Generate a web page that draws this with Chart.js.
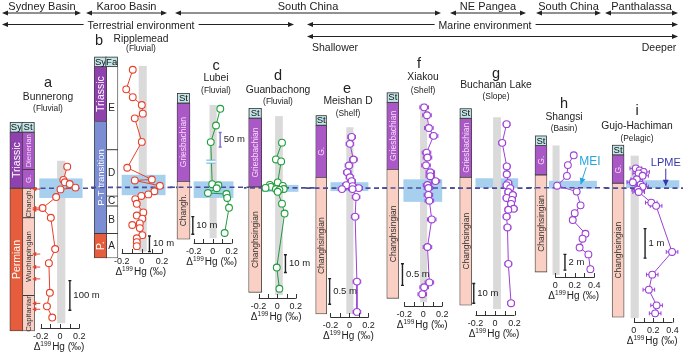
<!DOCTYPE html>
<html>
<head>
<meta charset="utf-8">
<script src="https://cdn.jsdelivr.net/npm/chart.js@4.4.1/dist/chart.umd.min.js"></script>
<style>
html, body { margin: 0; padding: 0; background: #fff; overflow: hidden; }
#fig { position: relative; width: 683px; height: 354px; overflow: hidden;
       font-family: 'Liberation Sans', Arial, Helvetica, sans-serif; color: #222; }
#fig canvas { position: absolute; top: 0; }
#hdr { position: absolute; left: 0; top: 0; }
.t { position: absolute; transform: translate(-50%, -50%); white-space: nowrap; line-height: 1; z-index: 3; }
.bg { background: #fff; padding: 0 4px; }
</style>
</head>
<body>
<div id="fig"><svg id="hdr" width="683" height="60"></svg></div>
<script>
// ---- a: Bunnerong (heights in m above the boundary) ----
const aHg = [0.075, 0.035, 0.05, 0.10, 0.16, 0.005, -0.04, -0.18, -0.095, -0.05, -0.115, -0.105, -0.135, -0.08];
const aHt = [73, 28, 20, 14, 2, -4, -30, -67, -100, -206, -254, -354, -400, -438];
const aArrows = [-3, -67, -73, -223, -267, -307, -390, -410];
const aSyUnits = ['Triassic', 'Permian'];
const aSyBounds = [190, 0, -483];
const aStUnits = ['Dienerian', 'G.', 'Changh.', 'Wuchiapingian', 'Capitanian'];
const aStBounds = [190, 63, 0, -100, -363, -483];
const aGrey = [-0.03, 0.055, 93, -457];
const aBlue = [-0.214, 0.233, 33, -33];
const aScale = [0.102, -313, -413];

// ---- b: Ripplemead ----
const bHg = [-0.09, -0.155, -0.09, 0.0, 0.01, -0.07, 0.0, -0.145, 0.1, -0.07, 0.18, 0.125, 0.065, -0.005,
    -0.065, -0.05, 0.015, -0.05, 0.005, -0.02, -0.095, -0.02, 0.005, -0.05, -0.05, -0.05];
const bHt = [75, 62.5, 57.5, 52.5, 47, 44, 29, 12.5, 5, 4.4, 1, -2.5, -4.5, -5.5,
    -7.5, -10.5, -16, -18, -20, -23, -24, -26, -30.5, -32.5, -35, -37.5];
const bSyUnits = ['Triassic', 'P-T transition', 'P.'];
const bSyBounds = [77, 42, -29.4, -45];
const bFaUnits = ['E', 'D', 'C', 'B', 'A'];
const bFaBounds = [77, 24, -5.6, -11.9, -29.4, -45];
const bGrey = [-0.031, 0.049, 77.5, -41];
const bBlue = [-0.2, 0.236, 8, -5];
const bScale = [0.076, -31, -41];

// ---- c: Lubei ----
const cHg = [0.08, 0.035, -0.02, -0.005, 0.06, 0.042, -0.05, 0.145, 0.153, 0.172, 0.126];
const cHt = [44.5, 35, 25.6, 1.7, 1.1, -0.6, -3.3, -3.9, -6.1, -11.7, -26];
const cStUnits = ['Griesbachian', 'Changh.'];
const cStBounds = [47.8, 3.3, -29.5];
const cGrey = [-0.033, 0.042, 46.7, -28.9];
const cBlue = [-0.2, 0.219, 3.3, -6.1];
const cScale = [-0.209, -16.7, -26.7];
const cScale50 = [0.079, 31, 22.8];
const cBreak = [-0.02, 14.5];

// ---- d: Guanbachong ----
const dHg = [0.051, -0.014, 0.042, 0.005, -0.079, 0.06, -0.07, -0.126, 0.07, -0.014, 0.023, 0.005, 0.051, 0.079, -0.005, 0.023];
const dHt = [25.6, 16.1, 15, 3.1, 1.7, 1.1, 0.6, 0, -0.6, -0.6, -1.1, -2.2, -8.9, -14.5, -45, -57];
const dStUnits = ['Griesbachian', 'Changhsingian'];
const dStBounds = [39.5, 0.5, -59];
const dGrey = [-0.023, 0.06, 40.6, -60.6];
const dBlue = [-0.163, 0.228, 1.7, -2.2];
const dScale = [0.088, -37.8, -47.8];

// ---- e: Meishan D ----
const eHg = [0.023, 0.005, 0.042, -0.005, -0.023, 0.005, 0.023, -0.033, 0.033, 0.098, -0.079, 0.033, 0.07, 0.06, 0.079, 0.079];
const eHt = [1.0, 0.865, 0.558, 0.442, 0.308, 0.212, 0.135, 0.058, 0.038, 0.0, -0.019, -0.019, -0.173, -0.558, -1.827, -2.42];
const eStUnits = ['G.', 'Changhsingian'];
const eStBounds = [1.23, 0.21, -2.46];
const eGrey = [-0.033, 0.042, 1.19, -2.46];
const eBlue = [-0.2, 0.2, 0.115, -0.058];
const eScale = [-0.209, -1.77, -2.27];

// ---- f: Xiakou ----
const fHg = [0.01, 0.04, 0.06, 0.11, 0.035, 0.045, 0.03, 0.075, 0.075, 0.13, 0.045, 0.055, 0.055, 0.065, 0.09, 0.045, 0.065, 0.01, -0.01];
const fHt = [1.864, 1.682, 1.386, 1.205, 0.818, 0.705, 0.523, 0.364, 0.273, 0.159, 0.068, 0.0, -0.159, -0.295, -0.727, -1.364, -2.182, -2.295, -2.455];
const fStUnits = ['Griesbachian', 'Changhsingian'];
const fStBounds = [1.98, 0.43, -2.55];
const fGrey = [-0.033, 0.042, 1.95, -2.64];
const fBlue = [-0.209, 0.2, 0.2, -0.32];
const fScale = [-0.219, -1.75, -2.25];

// ---- g: Buchanan Lake ----
const gHg = [0.118, 0.073, 0.12, 0.12, 0.136, 0.118, 0.155, 0.136, 0.182, 0.118, 0.173, 0.164, 0.191, 0.136, 0.118, 0.127, 0.136, 0.164];
const gHt = [32.5, 23, 11, 7, 2.5, 1.5, 0, -2, -3.5, -5, -6, -8, -10.5, -11, -14.5, -20, -38.5, -58.5];
const gStUnits = ['Griesbachian', 'Changhsingian'];
const gStBounds = [35.5, 5.5, -59.5];
const gGrey = [-0.02, 0.06, 36, -61.5];
const gBlue = [-0.2, 0.236, 5, 0];
const gScale = [-0.218, -48.5, -58.5];

// ---- h: Shangsi ----
const hHg = [0.19, 0.13, 0.12, 0.02, 0.22, 0.26, 0.2, 0.18, 0.31, 0.28, 0.25, 0.34, 0.36];
const hHt = [4.125, 2.875, 1.5, 0.25, -0.5, -2.25, -3.25, -4.125, -5.875, -6.5, -7.625, -8.5, -10.375];
const hStUnits = ['G.', 'Changhsingian'];
const hStBounds = [5.375, 1.625, -10.75];
const hGrey = [-0.027, 0.045, 5.375, -11.1];
const hBlue = [-0.064, 0.427, 0.875, -0.125];
const hScale = [0.1, -8.5, -10.5];

// ---- i: Gujo-Hachiman ----
const iHg = [0.02, 0.06, 0.1, 0.05, 0.09, 0.03, -0.01, 0.07, 0.09, 0.04, 0.05, 0.18, 0.23, 0.395, 0.19, 0.155, 0.235, 0.22];
const iHt = [0.67, 0.6, 0.55, 0.5, 0.42, 0.3, 0.2, 0.12, 0.05, -0.05, -0.13, -0.49, -0.6, -2.16, -2.93, -3.44, -3.97, -4.24];
const iStUnits = ['G.', 'Changhsingian'];
const iStBounds = [1.13, 0.167, -4.37];
const iGrey = [-0.033, 0.051, 1.1, -4.4];
const iBlue = [-0.079, 0.47, 0.267, 0];
const iScale = [0.116, -1.37, -2.37];

const FONT = "'Liberation Sans', Arial, Helvetica, sans-serif";
const Z = 186;  // pixel row of the boundary (dashed line)
const RED = '#e8412c', GREEN = '#1f9d3b', PURPLE = '#9c40d6';
const GREY = '#dadada', BLUE = '#a6d0ee';

const purpleFill = ['#aa58c6', '#f6dcf8'];
const pinkFill = ['#fbd0c4', '#333333'];
const unitStyle = {
    'Triassic': ['#8f42ad', '#ffffff'],
    'Permian': ['#e55d3c', '#ffffff'],
    'P.': ['#e55d3c', '#ffffff'],
    'P-T transition': ['#7b8ed4', '#ffffff'],
    'Dienerian': purpleFill, 'Griesbachian': purpleFill, 'G.': purpleFill,
    'Changh.': pinkFill, 'Changhsingian': pinkFill, 'Wuchiapingian': pinkFill, 'Capitanian': pinkFill,
    'A': ['#ffffff', '#222222'], 'B': ['#ffffff', '#222222'], 'C': ['#ffffff', '#222222'],
    'D': ['#ffffff', '#222222'], 'E': ['#ffffff', '#222222']
};

const st = (units, bounds) => ({units, bounds, head: 'St', kind: 'st'});

const panels = [
    {id: 'a', left: 0, right: 88, axisY: 328, p0: 61, k: 107.5, mpp: 100 / 30, ticks: [-0.2, 0, 0.2],
        color: RED, hg: aHg, ht: aHt, err: 0.03, colLeft: 6, colW: 13,
        cols: [{units: aSyUnits, bounds: aSyBounds, head: 'Sy', kind: 'sy'},
            {units: aStUnits, bounds: aStBounds, head: 'St', kind: 'st'}],
        grey: aGrey, blue: aBlue, bars: [[aScale, '100 m', '#222']], arrows: aArrows, lineFrom: 33},
    {id: 'b', left: 88, right: 170, axisY: 253, p0: 142.5, k: 112.5, mpp: 10 / 16, ticks: [-0.2, 0, 0.2],
        color: RED, hg: bHg, ht: bHt, err: 0.025, colLeft: 90, colW: 12.5,
        cols: [{units: bSyUnits, bounds: bSyBounds, head: 'Sy', kind: 'sy'},
            {units: bFaUnits, bounds: bFaBounds, head: 'Fa', kind: 'fa'}],
        grey: bGrey, blue: bBlue, bars: [[bScale, '10 m', '#222']]},
    {id: 'c', left: 170, right: 244, axisY: 243, p0: 212.5, k: 107.5, mpp: 10 / 18, ticks: [-0.2, 0, 0.2],
        color: GREEN, hg: cHg, ht: cHt, err: 0, colLeft: 173, colW: 13, cols: [st(cStUnits, cStBounds)],
        grey: cGrey, blue: cBlue, bars: [[cScale, '10 m', '#222'], [cScale50, '50 m', '#7d72d2']], brk: cBreak},
    {id: 'd', left: 244, right: 306, axisY: 298, p0: 276.5, k: 107.5, mpp: 10 / 18, ticks: [-0.2, 0, 0.2],
        color: GREEN, hg: dHg, ht: dHt, err: 0, colLeft: 244.5, colW: 13, cols: [st(dStUnits, dStBounds)],
        grey: dGrey, blue: dBlue, bars: [[dScale, '10 m', '#222']]},
    {id: 'e', left: 306, right: 378, axisY: 317, p0: 349.5, k: 107.5, mpp: 0.5 / 26, ticks: [-0.2, 0, 0.2],
        color: PURPLE, hg: eHg, ht: eHt, err: 0.04, colLeft: 312, colW: 11, cols: [st(eStUnits, eStBounds)],
        grey: eGrey, blue: eBlue, bars: [[eScale, '0.5 m', '#222']]},
    {id: 'f', left: 378, right: 450, axisY: 306, p0: 423.5, k: 107.5, mpp: 0.5 / 22, ticks: [-0.2, 0, 0.2],
        color: PURPLE, hg: fHg, ht: fHt, err: 0.045, colLeft: 383, colW: 12, cols: [st(fStUnits, fStBounds)],
        grey: fGrey, blue: fBlue, bars: [[fScale, '0.5 m', '#222']]},
    {id: 'g', left: 450, right: 527, axisY: 315, p0: 495, k: 110, mpp: 0.5, ticks: [-0.2, 0, 0.2],
        color: PURPLE, hg: gHg, ht: gHt, err: 0.035, colLeft: 456, colW: 12, cols: [st(gStUnits, gStBounds)],
        grey: gGrey, blue: gBlue, greyOnTop: true, bars: [[gScale, '10 m', '#222']]},
    {id: 'h', left: 527, right: 604, axisY: 277, p0: 553, k: 110, mpp: 0.125, ticks: [0, 0.2, 0.4],
        color: PURPLE, hg: hHg, ht: hHt, err: 0, colLeft: 531, colW: 12, cols: [st(hStUnits, hStBounds)],
        grey: hGrey, blue: hBlue, bars: [[hScale, '2 m', '#222']],
        note: {text: 'MEI', at: [0.355, 3.25], from: [0.318, 2.6], to: [0.262, 0.45], color: '#24a6df', size: 12}},
    {id: 'i', left: 604, right: 692, axisY: 322, p0: 631.5, k: 107.5, mpp: 1 / 30, ticks: [0, 0.2, 0.4],
        color: PURPLE, hg: iHg, ht: iHt, err: 0.06, colLeft: 608, colW: 12, cols: [st(iStUnits, iStBounds)],
        grey: iGrey, blue: iBlue, bars: [[iScale, '1 m', '#222']],
        note: {text: 'LPME', at: [0.33, 0.85], from: [0.33, 0.66], to: [0.33, 0.08], color: '#3636a8', size: 11}}
];

function arrowHead(ctx, x1, y1, x2, y2, len, half) {
    const a = Math.atan2(y2 - y1, x2 - x1);
    ctx.beginPath();
    ctx.moveTo(x2, y2);
    ctx.lineTo(x2 - len * Math.cos(a) + half * Math.sin(a), y2 - len * Math.sin(a) - half * Math.cos(a));
    ctx.lineTo(x2 - len * Math.cos(a) - half * Math.sin(a), y2 - len * Math.sin(a) + half * Math.cos(a));
    ctx.closePath();
    ctx.fill();
}

function panelPlugin(p) {
    return {
        id: 'panel_' + p.id,
        beforeDatasetsDraw(chart) {
            const {ctx, scales: {x, y}} = chart;
            const box = (b, col) => {
                const x1 = x.getPixelForValue(b[0]), x2 = x.getPixelForValue(b[1]);
                const y1 = y.getPixelForValue(b[2]), y2 = y.getPixelForValue(b[3]);
                ctx.fillStyle = col;
                ctx.fillRect(x1, y1, x2 - x1, y2 - y1);
            };
            if (p.greyOnTop) { box(p.blue, BLUE); box(p.grey, GREY); }
            else { box(p.grey, GREY); box(p.blue, BLUE); }
            if (p.err) {
                ctx.strokeStyle = p.color;
                ctx.lineWidth = 1;
                p.hg.forEach((v, i) => {
                    const yy = y.getPixelForValue(p.ht[i]);
                    const x1 = x.getPixelForValue(v - p.err), x2 = x.getPixelForValue(v + p.err);
                    ctx.beginPath();
                    ctx.moveTo(x1, yy); ctx.lineTo(x2, yy);
                    ctx.moveTo(x1, yy - 2); ctx.lineTo(x1, yy + 2);
                    ctx.moveTo(x2, yy - 2); ctx.lineTo(x2, yy + 2);
                    ctx.stroke();
                });
            }
        },
        afterDatasetDraw(chart, args) {
            // columns are drawn first; the boundary goes over them but under the data
            if (args.index !== 0) return;
            const {ctx, scales: {y}} = chart;
            const yy = y.getPixelForValue(0);
            const sx = p.lineFrom ? p.lineFrom - p.left : 0;
            ctx.save();
            ctx.strokeStyle = '#4b4b9c';
            ctx.lineWidth = 1.6;
            ctx.setLineDash([5, 3.5]);
            ctx.lineDashOffset = -(p.left + sx);
            ctx.beginPath();
            ctx.moveTo(sx, yy); ctx.lineTo(chart.width, yy);
            ctx.stroke();
            ctx.restore();
        },
        afterDatasetsDraw(chart) {
            const {ctx, scales: {x, y, xs}} = chart;
            ctx.save();
            // unit names and column heads
            p.cols.forEach((c, ci) => {
                const meta = chart.getDatasetMeta(ci);
                meta.data.forEach((el, i) => {
                    const name = c.units[i];
                    const cy = (el.y + el.base) / 2;
                    ctx.fillStyle = unitStyle[name][1];
                    ctx.textAlign = 'center';
                    ctx.textBaseline = 'middle';
                    if (c.kind === 'fa') {
                        ctx.font = `10px ${FONT}`;
                        ctx.fillText(name, el.x, cy + 0.5);
                    } else {
                        const sz = c.kind === 'sy' ? (name === 'P-T transition' ? 9.5 : 10.5) : (ci === 1 && p.id === 'a' ? 7.8 : 8.5);
                        ctx.font = `${sz}px ${FONT}`;
                        ctx.save();
                        ctx.translate(el.x + 0.5, cy);
                        ctx.rotate(-Math.PI / 2);
                        ctx.fillText(name, 0, 0);
                        ctx.restore();
                    }
                });
                const el0 = meta.data[0];
                const top = y.getPixelForValue(c.bounds[0]);
                const w = el0.width;
                ctx.fillStyle = '#c3e6e9';
                ctx.fillRect(el0.x - w / 2, top - 9.5, w, 9.5);
                ctx.strokeStyle = '#333';
                ctx.lineWidth = 0.8;
                ctx.strokeRect(el0.x - w / 2 + 0.4, top - 9.5, w - 0.8, 9.5);
                ctx.fillStyle = '#111';
                ctx.font = `9.5px ${FONT}`;
                ctx.textAlign = 'center';
                ctx.textBaseline = 'middle';
                ctx.fillText(c.head, el0.x, top - 4.5);
            });
            // scale bars
            (p.bars || []).forEach(([b, label, col]) => {
                const bx = x.getPixelForValue(b[0]);
                const y1 = y.getPixelForValue(b[1]), y2 = y.getPixelForValue(b[2]);
                ctx.strokeStyle = col;
                ctx.lineWidth = 1.4;
                ctx.beginPath();
                ctx.moveTo(bx, y1); ctx.lineTo(bx, y2);
                ctx.moveTo(bx - 1.5, y1); ctx.lineTo(bx + 1.5, y1);
                ctx.moveTo(bx - 1.5, y2); ctx.lineTo(bx + 1.5, y2);
                ctx.stroke();
                ctx.fillStyle = '#222';
                ctx.font = `9.5px ${FONT}`;
                ctx.textAlign = 'left';
                ctx.textBaseline = 'middle';
                ctx.fillText(label, bx + 3.5, (y1 + y2) / 2);
            });
            // red arrows beside the Bunnerong column
            if (p.arrows) {
                ctx.strokeStyle = RED;
                ctx.fillStyle = RED;
                ctx.lineWidth = 1;
                const tip = xs.getPixelForValue(1.36);
                p.arrows.forEach(h => {
                    const yy = y.getPixelForValue(h);
                    ctx.beginPath();
                    ctx.moveTo(tip + 8, yy); ctx.lineTo(tip + 2, yy);
                    ctx.stroke();
                    arrowHead(ctx, tip + 8, yy, tip, yy, 4, 2.2);
                });
            }
            // break in the Lubei profile
            if (p.brk) {
                const bx = x.getPixelForValue(p.brk[0]), by = y.getPixelForValue(p.brk[1]);
                ctx.fillStyle = '#fff';
                ctx.fillRect(bx - 4.5, by - 1.5, 9, 3);
                ctx.strokeStyle = '#5ab4e5';
                ctx.lineWidth = 1;
                ctx.beginPath();
                ctx.moveTo(bx - 4.5, by - 1.5); ctx.lineTo(bx + 4.5, by - 1.5);
                ctx.moveTo(bx - 4.5, by + 1.5); ctx.lineTo(bx + 4.5, by + 1.5);
                ctx.stroke();
            }
            // MEI / LPME notes
            if (p.note) {
                const n = p.note;
                ctx.fillStyle = n.color;
                ctx.strokeStyle = n.color;
                ctx.font = `${n.size}px ${FONT}`;
                ctx.textAlign = 'center';
                ctx.textBaseline = 'middle';
                ctx.fillText(n.text, x.getPixelForValue(n.at[0]), y.getPixelForValue(n.at[1]));
                const fx = x.getPixelForValue(n.from[0]), fy = y.getPixelForValue(n.from[1]);
                const tx = x.getPixelForValue(n.to[0]), ty = y.getPixelForValue(n.to[1]);
                ctx.lineWidth = 1;
                ctx.beginPath();
                ctx.moveTo(fx, fy); ctx.lineTo(tx, ty);
                ctx.stroke();
                arrowHead(ctx, fx, fy, tx, ty, 6, 3);
            }
            // x axis: baseline with inward ticks, and its title
            const t0 = p.ticks[0], t1 = p.ticks[p.ticks.length - 1];
            const ay = chart.chartArea.bottom + 0.5;
            ctx.strokeStyle = '#333';
            ctx.lineWidth = 1;
            ctx.beginPath();
            ctx.moveTo(x.getPixelForValue(t0), ay); ctx.lineTo(x.getPixelForValue(t1), ay);
            const n = Math.round((t1 - t0) / 0.1);
            for (let i = 0; i <= n; i++) {
                const tx = Math.round(x.getPixelForValue(t0 + i * 0.1)) + 0.5;
                ctx.moveTo(tx, ay); ctx.lineTo(tx, ay - 4.5);
            }
            ctx.stroke();
            const cx = x.getPixelForValue((t0 + t1) / 2) - 1, cy = ay + 19;
            ctx.fillStyle = '#222';
            ctx.textAlign = 'left';
            ctx.textBaseline = 'middle';
            ctx.font = `10px ${FONT}`;
            const wD = ctx.measureText('Δ').width, wH = ctx.measureText('Hg (‰)').width;
            ctx.font = `6.5px ${FONT}`;
            const wS = ctx.measureText('199').width;
            let x0 = cx - (wD + wS + 1 + wH) / 2;
            ctx.font = `10px ${FONT}`;
            ctx.fillText('Δ', x0, cy); x0 += wD;
            ctx.font = `6.5px ${FONT}`;
            ctx.fillText('199', x0, cy - 3); x0 += wS + 1;
            ctx.font = `10px ${FONT}`;
            ctx.fillText('Hg (‰)', x0, cy);
            ctx.restore();
        }
    };
}

Chart.defaults.font.family = FONT;
const fig = document.getElementById('fig');

panels.forEach(p => {
    const cv = document.createElement('canvas');
    // each canvas runs a little past its panel so scale-bar labels are not cut
    const R = p.right + 14;
    const W = R - p.left, H = p.axisY + 30;
    cv.width = W; cv.height = H;
    cv.style.left = p.left + 'px';
    cv.style.width = W + 'px';
    cv.style.height = H + 'px';
    fig.appendChild(cv);
    const xs0 = -(p.colLeft + p.colW / 2 - p.left) / p.colW;
    const datasets = p.cols.map((c, ci) => ({
        type: 'bar', xAxisID: 'xs', yAxisID: 'y', order: 2,
        data: c.units.map((u, i) => ({x: ci, y: [c.bounds[i + 1], c.bounds[i]]})),
        backgroundColor: c.units.map(u => unitStyle[u][0]),
        borderColor: '#3a3a3a', borderWidth: 0.8, borderSkipped: false,
        barThickness: p.colW, grouped: false, clip: false
    }));
    datasets.push({
        type: 'scatter', xAxisID: 'x', yAxisID: 'y', order: 1,
        data: p.hg.map((v, i) => ({x: v, y: p.ht[i]})),
        showLine: true, borderColor: p.color, borderWidth: 1,
        pointRadius: 3.4, pointBackgroundColor: '#fff', pointBorderColor: p.color, pointBorderWidth: 1.1,
        clip: false
    });
    new Chart(cv, {
        type: 'scatter',
        data: {datasets},
        options: {
            responsive: false, animation: false, devicePixelRatio: 1,
            layout: {padding: 0},
            plugins: {legend: {display: false}, tooltip: {enabled: false}},
            scales: {
                x: {
                    type: 'linear', position: 'bottom', bounds: 'data',
                    min: (p.left - p.p0) / p.k, max: (R - p.p0) / p.k,
                    afterBuildTicks: ax => { ax.ticks = p.ticks.map(v => ({value: v})); },
                    afterFit: ax => { ax.height = 30; },
                    grid: {display: false, drawTicks: false}, border: {display: false},
                    ticks: {padding: 3, font: {size: 9, family: FONT}, color: '#222', maxRotation: 0, autoSkip: false,
                        callback: v => (Math.abs(v) < 1e-9 ? '0' : v.toFixed(1))}
                },
                xs: {type: 'linear', display: false, bounds: 'data', offset: false, min: xs0, max: xs0 + W / p.colW},
                y: {type: 'linear', display: false, bounds: 'data', min: (Z - p.axisY) * p.mpp, max: Z * p.mpp}
            }
        },
        plugins: [panelPlugin(p)]
    });
});

// header arrows
function hArrow(x1, x2, y) {
    return `<line x1="${x1 + 4}" y1="${y}" x2="${x2 - 4}" y2="${y}" stroke="#222" stroke-width="1"/>` +
        `<polygon points="${x1},${y} ${x1 + 6},${y - 2.6} ${x1 + 6},${y + 2.6}" fill="#222"/>` +
        `<polygon points="${x2},${y} ${x2 - 6},${y - 2.6} ${x2 - 6},${y + 2.6}" fill="#222"/>`;
}
document.getElementById('hdr').innerHTML =
    hArrow(2, 81, 13) + hArrow(86, 167, 13) + hArrow(175, 441, 13) + hArrow(450, 526, 13) +
    hArrow(536, 601, 13) + hArrow(605, 678, 13) +
    hArrow(2, 294, 24.5) + hArrow(307, 678, 24.5) + hArrow(307, 678, 36.5);

function label(text, x, y, size, extra) {
    const d = document.createElement('div');
    d.className = 't' + (extra ? ' ' + extra : '');
    d.style.left = x + 'px';
    d.style.top = y + 'px';
    d.style.fontSize = size + 'px';
    d.textContent = text;
    fig.appendChild(d);
}
label('Sydney Basin', 42, 5.5, 11);
label('Karoo Basin', 126.5, 5.5, 11);
label('South China', 308, 5.5, 11);
label('NE Pangea', 488, 5.5, 11);
label('South China', 568.5, 5.5, 11);
label('Panthalassa', 641.5, 5.5, 11);
label('Terrestrial environment', 141, 24.5, 10.5, 'bg');
label('Marine environment', 485, 24.5, 10.5, 'bg');
label('Shallower', 335, 47, 10.5);
label('Deeper', 659, 47, 10.5);

const titles = [
    ['a', 48, 82, 'Bunnerong', 48, 97, '(Fluvial)', 108],
    ['b', 99, 40, 'Ripplemead', 141, 39, '(Fluvial)', 48],
    ['c', 216, 65, 'Lubei', 216, 78, '(Fluvial)', 90],
    ['d', 278, 75, 'Guanbachong', 278, 90, '(Fluvial)', 101],
    ['e', 347, 88, 'Meishan D', 348, 101, '(Shelf)', 113],
    ['f', 419, 63, 'Xiakou', 423, 77, '(Shelf)', 90],
    ['g', 496, 73, 'Buchanan Lake', 496, 85, '(Slope)', 96],
    ['h', 564, 103, 'Shangsi', 564, 117, '(Basin)', 128],
    ['i', 637, 110, 'Gujo-Hachiman', 637, 126, '(Pelagic)', 138]
];
titles.forEach(([l, lx, ly, name, nx, ny, env, ey]) => {
    label(l, lx, ly, 14.5);
    label(name, nx, ny, 10.3);
    label(env, nx, ey, 8.4);
});
</script>
</body>
</html>
